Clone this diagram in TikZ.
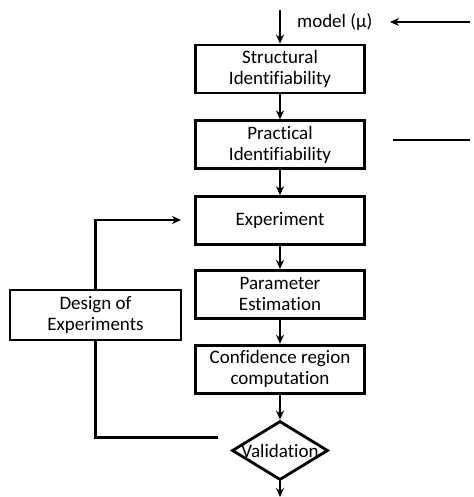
\documentclass[tikz,border=0pt]{standalone}
\usepackage{fontspec}
\setmainfont{Carlito}[Ligatures=NoCommon]
\usetikzlibrary{positioning,shapes.geometric,arrows.meta}

\begin{document}
\begin{tikzpicture}[x=1pt,y=-1pt,
  font=\fontsize{9.5}{10.5}\selectfont,
  stepbox/.style={draw, line width=1.4pt, minimum width=84.5pt, minimum height=24pt, align=center, inner sep=1pt},
  flow/.style={line width=1.4pt, -{Stealth[length=4.5pt,width=4pt]}},
  link/.style={line width=1.4pt}]
  \useasboundingbox (0,0) rectangle (237,248.5);
  % main column
  \node[stepbox] (SI) at (140,34.5) {Structural\\Identifiability};
  \node[stepbox, below=12.5pt of SI] (PI) {Practical\\Identifiability};
  \node[stepbox, below=12.5pt of PI] (EX) {Experiment};
  \node[stepbox, below=11.5pt of EX] (PE) {Parameter\\Estimation};
  \node[stepbox, below=12pt of PE] (CR) {Confidence region\\computation};
  \node[diamond, draw, line width=1.4pt, minimum width=48pt, minimum height=29.5pt, inner sep=0pt,
        below=12.5pt of CR, label=center:Validation] (VA) {};
  % side box
  \node[stepbox, minimum width=85.5pt, minimum height=25pt] (DE) at (47.75,157.5) {Design of\\Experiments};
  \node[anchor=west] (ML) at (145,11) {model (μ)};
  \coordinate (in) at (140,5);
  \coordinate (out) at (140,248.5);
  \coordinate (fb) at (235,11);
  \coordinate (fbend) at (195,11);
  \coordinate (pa) at (196.5,70);
  \coordinate (pb) at (235,70);
  \coordinate (up) at (47.75,110);
  \coordinate (upend) at (90.5,110);
  \coordinate (low) at (47.75,218.75);
  \coordinate (lowend) at (109,218.75);
  % connectors
  \draw[flow] (in) -- (SI);
  \draw[flow] (SI) -- (PI);
  \draw[flow] (PI) -- (EX);
  \draw[flow] (EX) -- (PE);
  \draw[flow] (PE) -- (CR);
  \draw[flow] (CR) -- (VA);
  \draw[flow] (VA) -- (out);
  \draw[flow] (fb) -- (fbend);
  \draw[link] (pa) -- (pb);
  \draw[flow] (DE.north) -- (up) -- (upend);
  \draw[link] (lowend) -- (low) -- (DE.south);
\end{tikzpicture}
\end{document}
